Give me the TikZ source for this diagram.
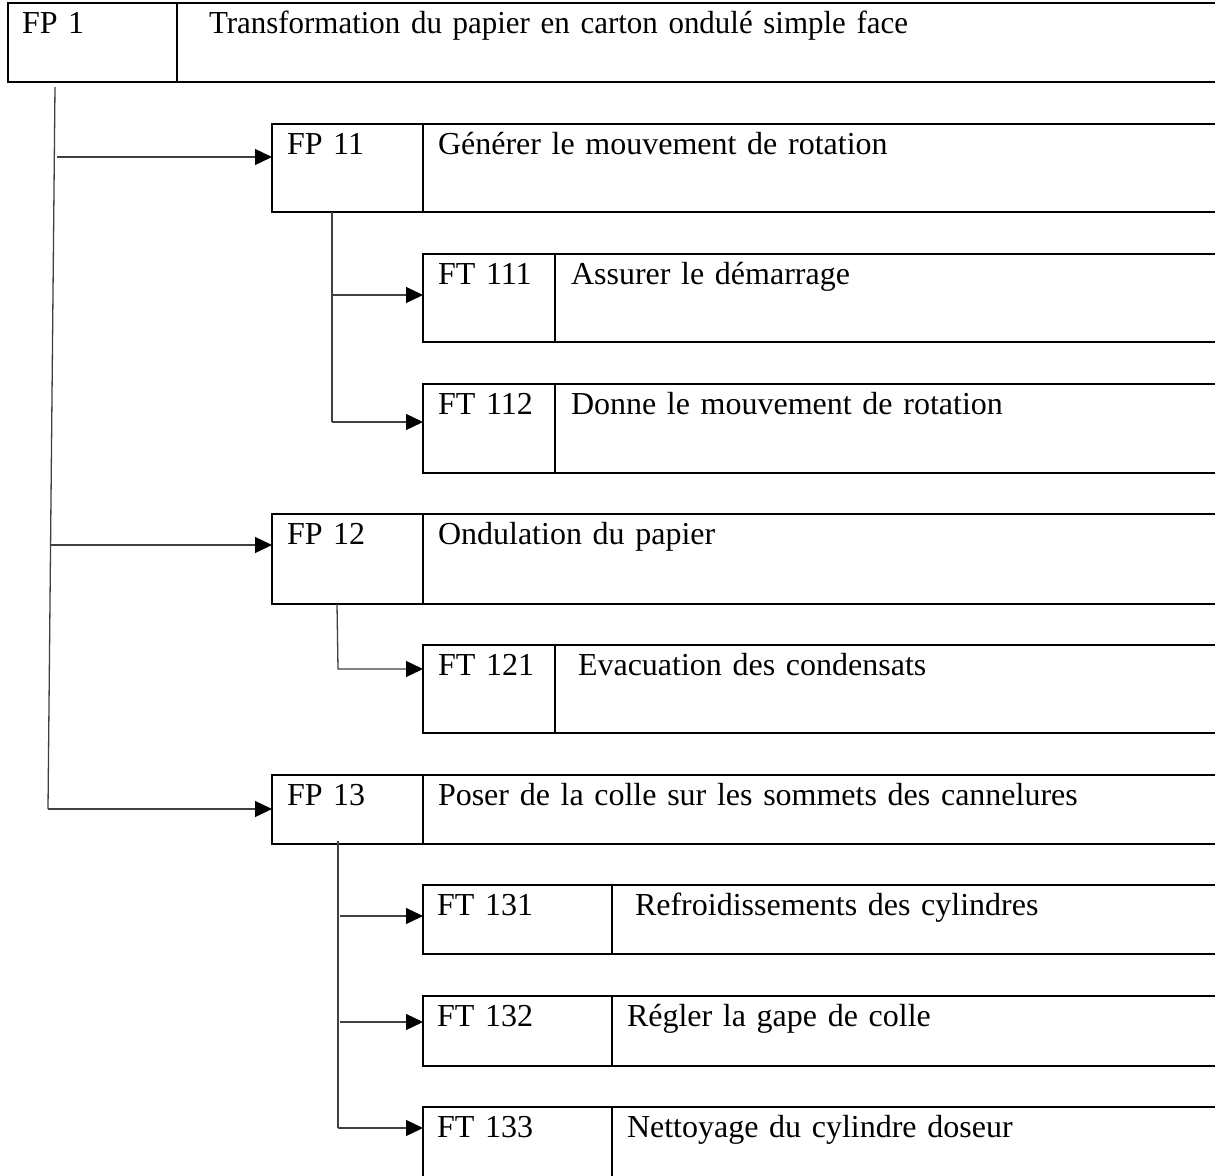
\documentclass[tikz,border=0pt]{standalone}
\usepackage{fontspec}
\setmainfont{Liberation Serif}
\newfontfamily\narrowserif[FakeStretch=0.967]{Liberation Serif}
\usetikzlibrary{arrows.meta}
\begin{document}
\begin{tikzpicture}[x=1pt,y=-1pt,
  cell/.style={draw, line width=2.7pt, anchor=north west, inner ysep=0pt,
    outer sep=0pt, text height=30pt,
    font=\fontsize{32}{38}\selectfont},
  link/.style={line width=1.3pt, draw=black!75},
  arr/.style={link, -{Triangle[length=17pt,width=16pt,color=black]}}
]
\useasboundingbox (0,0) rectangle (1215,1175);
\clip (0,0) rectangle (1215,1175);

% level 0
\node[cell, inner xsep=14pt, text width=141pt, text depth=49pt] (fp1id) at (8,3) {FP 1};
\node[cell, inner xsep=32pt, text width=1100pt, text depth=49pt,
  font=\narrowserif\fontsize{32}{38}\selectfont] (fp1t) at (fp1id.north east) {Transformation du papier en carton ondulé simple face};

% FP 11 and its technical functions
\node[cell, inner xsep=15pt, text width=121pt, text depth=58pt] (fp11id) at (272,124) {FP 11};
\node[cell, inner xsep=15pt, text width=900pt, text depth=58pt] (fp11t) at (fp11id.north east) {Générer le mouvement de rotation};
\node[cell, inner xsep=15pt, text width=102pt, text depth=58pt] (ft111id) at (423,254) {FT 111};
\node[cell, inner xsep=16pt, text width=900pt, text depth=58pt] (ft111t) at (ft111id.north east) {Assurer le démarrage};
\node[cell, inner xsep=15pt, text width=102pt, text depth=59pt] (ft112id) at (423,384) {FT 112};
\node[cell, inner xsep=16pt, text width=900pt, text depth=59pt] (ft112t) at (ft112id.north east) {Donne le mouvement de rotation};

% FP 12
\node[cell, inner xsep=15pt, text width=121pt, text depth=60pt] (fp12id) at (272,514) {FP 12};
\node[cell, inner xsep=15pt, text width=900pt, text depth=60pt] (fp12t) at (fp12id.north east) {Ondulation du papier};
\node[cell, inner xsep=15pt, text width=102pt, text depth=58pt] (ft121id) at (423,645) {FT 121};
\node[cell, inner xsep=23pt, text width=900pt, text depth=58pt] (ft121t) at (ft121id.north east) {Evacuation des condensats};

% FP 13
\node[cell, inner xsep=15pt, text width=121pt, text depth=39pt] (fp13id) at (272,775) {FP 13};
\node[cell, inner xsep=15pt, text width=900pt, text depth=39pt] (fp13t) at (fp13id.north east) {Poser de la colle sur les sommets des cannelures};
\node[cell, inner xsep=14pt, text width=161pt, text depth=39pt] (ft131id) at (423,885) {FT 131};
\node[cell, inner xsep=23pt, text width=900pt, text depth=39pt] (ft131t) at (ft131id.north east) {Refroidissements des cylindres};
\node[cell, inner xsep=14pt, text width=161pt, text depth=40pt] (ft132id) at (423,996) {FT 132};
\node[cell, inner xsep=15pt, text width=900pt, text depth=40pt] (ft132t) at (ft132id.north east) {Régler la gape de colle};
\node[cell, inner xsep=14pt, text width=161pt, text depth=70pt] (ft133id) at (423,1107) {FT 133};
\node[cell, inner xsep=15pt, text width=900pt, text depth=70pt] (ft133t) at (ft133id.north east) {Nettoyage du cylindre doseur};

% main trunk
\coordinate (trunkTop) at (55,87);
\coordinate (trunkBot) at (48,809);
\coordinate (b11) at (57,157);
\coordinate (b12) at (51,545);
\draw[link] (trunkTop) -- (trunkBot);
\draw[arr] (b11) -- (b11 -| fp11id.west);
\draw[arr] (b12) -- (b12 -| fp12id.west);
\draw[arr] (trunkBot) -- (trunkBot -| fp13id.west);

% FP 11 branch
\coordinate (s11top) at (332,212);
\coordinate (s11a) at (332,295);
\coordinate (s11b) at (332,422);
\draw[link] (s11top) -- (s11b);
\draw[arr] (s11a) -- (s11a -| ft111id.west);
\draw[arr] (s11b) -- (s11b -| ft112id.west);

% FP 12 branch
\coordinate (s12top) at (337,604);
\coordinate (s12a) at (338,669);
\draw[arr] (s12top) -- (s12a) -- (s12a -| ft121id.west);

% FP 13 branch
\coordinate (s13top) at (338,841);
\coordinate (s13a) at (340,916);
\coordinate (s13b) at (340,1022);
\coordinate (s13c) at (338,1128);
\draw[link] (s13top) -- (s13c);
\draw[arr] (s13a) -- (s13a -| ft131id.west);
\draw[arr] (s13b) -- (s13b -| ft132id.west);
\draw[arr] (s13c) -- (s13c -| ft133id.west);
\end{tikzpicture}
\end{document}
